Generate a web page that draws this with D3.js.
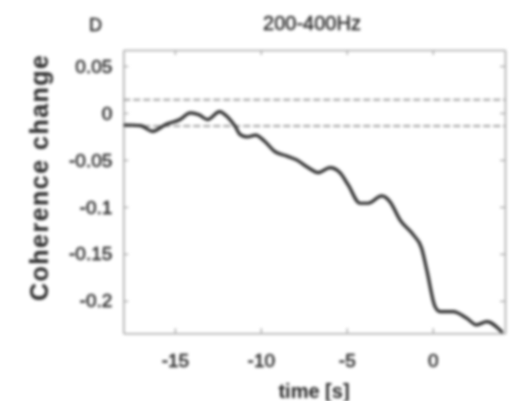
<!DOCTYPE html>
<html>
<head>
<meta charset="utf-8">
<script src="https://cdn.jsdelivr.net/npm/d3@7"></script>
<style>
  html, body { margin: 0; padding: 0; background: #fff; }
  svg { display: block; filter: blur(1.4px); }
  text { font-family: "Liberation Sans", Arial, sans-serif; fill: #262626; }
</style>
</head>
<body>
<svg id="chart" width="528" height="401"></svg>
<script>
// Coherence change over time, 200-400 Hz band
const timeS = [-17.9, -17.0, -16.3, -15.5, -14.7, -14.1, -13.6, -13.1, -12.4, -11.9, -11.5, -11.2,
  -10.8, -10.3, -9.76, -9.18, -8.50, -7.92, -7.34, -6.66, -5.98, -5.40, -4.92, -4.24, -3.75,
  -2.97, -2.49, -1.91, -1.13, -0.65, -0.35, 0.13, 0.42, 1.19, 1.97, 2.55, 3.14, 4.0];
const coherenceChange = [-0.0128, -0.0135, -0.0195, -0.0120, -0.0070, 0.0000, -0.0020, -0.0070,
  0.0015, -0.0050, -0.0140, -0.0230, -0.0255, -0.0235, -0.0305, -0.0412, -0.0457, -0.0500,
  -0.0571, -0.0635, -0.0582, -0.0635, -0.0766, -0.0961, -0.0961, -0.0883, -0.0944, -0.1138,
  -0.1298, -0.1439, -0.1670, -0.2061, -0.2114, -0.2114, -0.2184, -0.2255, -0.2220, -0.2327];
const thresholds = [0.014, -0.014];
const xTicks = [-15, -10, -5, 0];
const yTicks = [0.05, 0, -0.05, -0.1, -0.15, -0.2];
const xTickLabels = ["-15", "-10", "-5", "0"];
const yTickLabels = ["0.05", "0", "-0.05", "-0.1", "-0.15", "-0.2"];

const svg = d3.select("#chart");
const plot = { left: 123.3, top: 50, right: 505, bottom: 333.3 };

const x = d3.scaleLinear().domain([-18, 4.2]).range([plot.left, plot.right]);
const y = d3.scaleLinear().domain([-0.2345, 0.067]).range([plot.bottom, plot.top]);

const boxColor = "#a8a8a8";
const tickLen = 5;

// Axes: tick marks point inward on all four sides
const bottomAxis = d3.axisBottom(x).tickValues(xTicks).tickSizeInner(-tickLen).tickSizeOuter(0)
  .tickFormat((d, i) => xTickLabels[i]).tickPadding(20);
const topAxis = d3.axisTop(x).tickValues(xTicks).tickSizeInner(-tickLen).tickSizeOuter(0).tickFormat("");
const leftAxis = d3.axisLeft(y).tickValues(yTicks).tickSizeInner(-tickLen).tickSizeOuter(0)
  .tickFormat((d, i) => yTickLabels[i]).tickPadding(11);
const rightAxis = d3.axisRight(y).tickValues(yTicks).tickSizeInner(-tickLen).tickSizeOuter(0).tickFormat("");

function styleAxis(g) {
  g.select(".domain").attr("stroke", boxColor).attr("stroke-width", 1.6);
  g.selectAll(".tick line").attr("stroke", boxColor).attr("stroke-width", 1.4);
  g.selectAll(".tick text").attr("font-size", 19).attr("fill", "#222")
    .attr("stroke", "#222").attr("stroke-width", 0.5)
    .style("font-family", "'Liberation Sans', Arial, sans-serif");
}

svg.append("g").attr("transform", `translate(0,${plot.bottom})`).call(bottomAxis).call(styleAxis);
svg.append("g").attr("transform", `translate(0,${plot.top})`).call(topAxis).call(styleAxis);
svg.append("g").attr("transform", `translate(${plot.left},0)`).call(leftAxis).call(styleAxis);
svg.append("g").attr("transform", `translate(${plot.right},0)`).call(rightAxis).call(styleAxis);

// Significance thresholds
svg.append("g").selectAll("line").data(thresholds).join("line")
  .attr("x1", plot.left).attr("x2", plot.right)
  .attr("y1", d => y(d)).attr("y2", d => y(d))
  .attr("stroke", "#a0a0a0").attr("stroke-width", 2)
  .attr("stroke-dasharray", "7,3");

// Coherence change trace
const line = d3.line().x((d, i) => x(timeS[i])).y(d => y(d)).curve(d3.curveMonotoneX);
svg.append("path").datum(coherenceChange)
  .attr("d", line)
  .attr("fill", "none").attr("stroke", "#2a2a2a").attr("stroke-width", 3.2)
  .attr("stroke-linejoin", "round").attr("stroke-linecap", "round");

// Titles and labels
svg.append("text").attr("x", 312).attr("y", 30).attr("text-anchor", "middle")
  .attr("font-size", 20).attr("stroke", "#262626").attr("stroke-width", 0.4).text("200-400Hz");
svg.append("text").attr("x", 95.5).attr("y", 31).attr("text-anchor", "middle")
  .attr("font-size", 18).attr("stroke", "#262626").attr("stroke-width", 0.4).text("D");
svg.append("text").attr("x", 314).attr("y", 398).attr("text-anchor", "middle")
  .attr("font-size", 20).attr("font-weight", "bold").text("time [s]");
svg.append("text").attr("transform", "translate(48,178) rotate(-90)")
  .attr("text-anchor", "middle").attr("font-size", 25).attr("font-weight", "bold")
  .attr("textLength", 246).attr("lengthAdjust", "spacing")
  .text("Coherence change");
</script>
</body>
</html>
